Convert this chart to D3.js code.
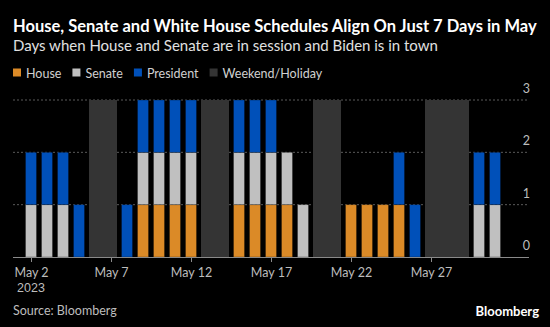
<!DOCTYPE html>
<html>
<head>
<meta charset="utf-8">
<script src="https://cdn.jsdelivr.net/npm/d3@7"></script>
<style>
  html, body { margin: 0; padding: 0; background: #000; }
  svg { display: block; font-family: Lato, "Noto Sans", sans-serif; }
</style>
</head>
<body>
<svg width="550" height="327"></svg>
<script>
// working days in May 2023, 1 = in session / in town
const days    = [2, 3, 4, 5, 8, 9, 10, 11, 12, 15, 16, 17, 18, 19, 22, 23, 24, 25, 26, 30, 31];
const house   = [0, 0, 0, 0, 0, 1, 1, 1, 1, 1, 1, 1, 1, 0, 1, 1, 1, 1, 0, 0, 0];
const senate  = [1, 1, 1, 0, 0, 1, 1, 1, 1, 1, 1, 1, 1, 1, 0, 0, 0, 0, 0, 1, 1];
const president = [1, 1, 1, 1, 1, 1, 1, 1, 1, 1, 1, 1, 0, 0, 0, 0, 0, 1, 1, 1, 1];

// weekends and Memorial Day, first and last day of each block
const offBlocks = [[6, 7], [13, 14], [20, 21], [27, 29]];

const tickDays = [2, 7, 12, 17, 22, 27];
const yTicks = [0, 1, 2, 3];

const keys = ['house', 'senate', 'president'];
const colors = { house: '#db8a27', senate: '#c0c0c0', president: '#0050b9', off: '#343434' };
const legend = [
  { label: 'House', color: colors.house },
  { label: 'Senate', color: colors.senate },
  { label: 'President', color: colors.president },
  { label: 'Weekend/Holiday', color: colors.off }
];

const svg = d3.select('svg');
const day = d => new Date(2023, 4, d);

const x = d3.scaleTime()
  .domain([new Date(2023, 3, 30, 21), new Date(2023, 5, 2, 3)])
  .range([13, 529]);
const y = d3.scaleLinear().domain([0, 3]).range([257, 100]);
const bw = 11;

// titles
svg.append('text')
  .attr('x', 13).attr('y', 32)
  .attr('fill', '#fff')
  .attr('font-size', 16.5)
  .attr('font-weight', 700)
  .text('House, Senate and White House Schedules Align On Just 7 Days in May');

svg.append('text')
  .attr('x', 13).attr('y', 51)
  .attr('fill', '#e0e0e0')
  .attr('font-size', 15)
  .text('Days when House and Senate are in session and Biden is in town');

// legend
const lg = svg.append('g').attr('transform', 'translate(13, 73)');
let lx = 0;
legend.forEach(d => {
  const item = lg.append('g').attr('transform', `translate(${lx}, 0)`);
  item.append('rect').attr('x', 0).attr('y', -4.5).attr('width', 8).attr('height', 8).attr('fill', d.color);
  const t = item.append('text')
    .attr('x', 13).attr('y', 4.5)
    .attr('fill', '#d0d0d0')
    .attr('font-size', 12.5)
    .text(d.label);
  lx += 13 + t.node().getComputedTextLength() + 11;
});

// gridlines and right-hand labels
svg.append('g')
  .selectAll('line')
  .data(yTicks.filter(v => v > 0))
  .join('line')
  .attr('x1', 13).attr('x2', 529)
  .attr('y1', d => y(d)).attr('y2', d => y(d))
  .attr('stroke', '#5a5a5a')
  .attr('stroke-dasharray', '2,2');

svg.append('g')
  .selectAll('text')
  .data(yTicks)
  .join('text')
  .attr('x', 530)
  .attr('y', d => y(d) - 7)
  .attr('text-anchor', 'end')
  .attr('fill', '#bdbdbd')
  .attr('font-size', 12.5)
  .text(d => d);

// weekend / holiday blocks
svg.append('g')
  .selectAll('rect')
  .data(offBlocks)
  .join('rect')
  .attr('x', d => x(day(d[0])) - bw / 2 - 0.5)
  .attr('width', d => x(day(d[1])) - x(day(d[0])) + bw + 1)
  .attr('y', y(3))
  .attr('height', y(0) - y(3))
  .attr('fill', colors.off);

// stacked bars
const rows = days.map((d, i) => ({ day: d, house: house[i], senate: senate[i], president: president[i] }));
const series = d3.stack().keys(keys)(rows);

svg.append('g')
  .selectAll('g')
  .data(series)
  .join('g')
  .attr('fill', s => colors[s.key])
  .selectAll('rect')
  .data(s => s.filter(p => p[1] > p[0]))
  .join('rect')
  .attr('x', p => x(day(p.data.day)) - bw / 2)
  .attr('width', bw)
  .attr('y', p => y(p[1]))
  .attr('height', p => y(p[0]) - y(p[1]))
  .attr('stroke', '#000')
  .attr('stroke-opacity', 0.35)
  .attr('stroke-width', 0.8);

// x axis
const xAxis = svg.append('g')
  .attr('transform', `translate(0, ${y(0)})`)
  .call(d3.axisBottom(x)
    .tickValues(tickDays.map(day))
    .tickSize(5)
    .tickSizeOuter(0)
    .tickFormat(d3.timeFormat('May %-d')));

xAxis.select('.domain').attr('stroke', '#8a8a8a').attr('d', `M13,0.5H529`);
xAxis.selectAll('.tick line').attr('stroke', '#8a8a8a');
xAxis.selectAll('.tick text')
  .attr('fill', '#bdbdbd')
  .attr('font-size', 12.5)
  .attr('font-family', 'Lato, "Noto Sans", sans-serif')
  .attr('dy', '0.95em');

xAxis.append('text')
  .attr('x', x(day(2)))
  .attr('y', 35)
  .attr('text-anchor', 'middle')
  .attr('fill', '#bdbdbd')
  .attr('font-size', 12.5)
  .text('2023');

// footer
svg.append('text')
  .attr('x', 13).attr('y', 315)
  .attr('fill', '#bdbdbd')
  .attr('font-size', 12.5)
  .text('Source: Bloomberg');

svg.append('text')
  .attr('x', 539).attr('y', 316)
  .attr('text-anchor', 'end')
  .attr('fill', '#fff')
  .attr('font-size', 13)
  .attr('font-weight', 700)
  .text('Bloomberg');
</script>
</body>
</html>
